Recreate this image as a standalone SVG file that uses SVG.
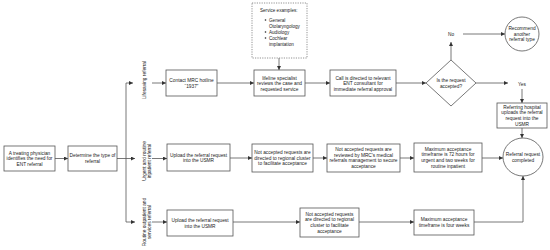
<svg xmlns="http://www.w3.org/2000/svg" width="550" height="250" viewBox="0 0 550 250">
<defs>
<marker id="ah" markerUnits="userSpaceOnUse" markerWidth="4" markerHeight="4" viewBox="0 0 4 4" refX="4" refY="2" orient="auto">
<path d="M0,0 L4,2 L0,4 Z" fill="#333"/>
</marker>
<style>
.b{fill:#fff;stroke:#555;stroke-width:0.8}
.d{fill:#fff;stroke:#777;stroke-width:0.8;stroke-dasharray:1.2 1.2}
.t{font-family:"Liberation Sans",Arial,sans-serif;font-size:4.8px;fill:#222;text-anchor:middle}
.s{font-family:"Liberation Sans",Arial,sans-serif;font-size:4.6px;fill:#222}
.c{fill:none;stroke:#555;stroke-width:0.8}
.a{fill:none;stroke:#555;stroke-width:0.8;marker-end:url(#ah)}
</style>
</defs>
<rect width="550" height="250" fill="#fff"/>
<g id="connectors">
<path class="a" d="M55,158.5 H68"/>
<path class="a" d="M117,158.5 H135"/>
<path class="c" d="M126,158.5 V83"/>
<path class="c" d="M126,158.5 V222"/>
<path class="a" d="M126,83 H133"/>
<path class="a" d="M126,222 H135"/>
<path class="a" d="M152,83 H166"/>
<path class="a" d="M152,158.5 H167"/>
<path class="a" d="M152,222 H167"/>
<path class="a" d="M217,83 H254"/>
<path class="a" d="M279,58 V70"/>
<path class="a" d="M305,83 H330"/>
<path class="a" d="M396,83 H426"/>
<path class="a" d="M451,60 V42"/>
<path class="a" d="M463,34 H505"/>
<path class="a" d="M476,83 H508"/>
<path class="a" d="M522,89 V103"/>
<path class="a" d="M522,128 V138"/>
<path class="a" d="M230,158 H252"/>
<path class="a" d="M313,158 H327"/>
<path class="a" d="M400,158 H414"/>
<path class="a" d="M482,158 H503"/>
<path class="a" d="M233,222 H300"/>
<path class="a" d="M359,222 H414"/>
<path class="a" d="M474,222 H523 V176"/>
</g>
<g id="lbl-lifesaving"><text class="t" transform="translate(146,80) rotate(-90)">Lifesaving referral</text></g>
<g id="lbl-urgent"><text class="t" transform="translate(145.5,161) rotate(-90)"><tspan x="0" y="0">Urgent and routine</tspan><tspan x="0" y="5.6">inpatient referral</tspan></text></g>
<g id="lbl-routine"><text class="t" transform="translate(145.5,222) rotate(-90)"><tspan x="0" y="0">Routine outpatient and</tspan><tspan x="0" y="5.6">services referral</tspan></text></g>
<g id="n-physician"><rect class="b" x="4" y="146" width="51" height="25"/><text class="t"><tspan x="29.5" y="154.6">A treating physician</tspan><tspan x="29.5" y="160.2">identifies the need for</tspan><tspan x="29.5" y="165.8">ENT referral</tspan></text></g>
<g id="n-determine"><rect class="b" x="68" y="146" width="49" height="25"/><text class="t"><tspan x="92.5" y="157.4">Determine the type of</tspan><tspan x="92.5" y="163">referral</tspan></text></g>
<g id="n-contact"><rect class="b" x="166" y="70" width="51" height="26"/><text class="t"><tspan x="191.5" y="82">Contact MRC hotline</tspan><tspan x="191.5" y="87.6">“1937”</tspan></text></g>
<g id="n-examples"><rect class="d" x="252" y="3" width="55" height="55"/><text class="s"><tspan x="260" y="11.5">Service examples:</tspan><tspan x="269" y="21.5">General</tspan><tspan x="269" y="27.5">Otolaryngology</tspan><tspan x="269" y="33.5">Audiology</tspan><tspan x="269" y="39.5">Cochlear</tspan><tspan x="269" y="46">implantation</tspan></text>
<circle cx="265.5" cy="20" r="0.8" fill="#222"/><circle cx="265.5" cy="32" r="0.8" fill="#222"/><circle cx="265.5" cy="38" r="0.8" fill="#222"/></g>
<g id="n-lifeline"><rect class="b" x="254" y="70" width="51" height="26"/><text class="t"><tspan x="279.5" y="79.6">lifeline specialist</tspan><tspan x="279.5" y="85.2">reviews the case and</tspan><tspan x="279.5" y="90.8">requested service</tspan></text></g>
<g id="n-call"><rect class="b" x="330" y="70" width="66" height="26"/><text class="t"><tspan x="363" y="79.6">Call is directed to relevant</tspan><tspan x="363" y="85.2">ENT consultant for</tspan><tspan x="363" y="90.8">immediate referral approval</tspan></text></g>
<g id="n-decision"><path class="b" d="M451,60 L476,83 L451,106 L426,83 Z"/><text class="t"><tspan x="451" y="82">Is the request</tspan><tspan x="451" y="87.6">accepted?</tspan></text></g>
<g id="lbl-no"><text class="t" x="451" y="36">No</text></g>
<g id="lbl-yes"><text class="t" x="522" y="85.5">Yes</text></g>
<g id="n-recommend"><circle class="b" cx="522" cy="34" r="17"/><text class="t"><tspan x="522" y="30">Recommend</tspan><tspan x="522" y="35.6">another</tspan><tspan x="522" y="41.2">referral type</tspan></text></g>
<g id="n-referring"><rect class="b" x="497" y="103" width="50" height="25"/><text class="t"><tspan x="522" y="108.8">Referring hospital</tspan><tspan x="522" y="114.4">uploads the referral</tspan><tspan x="522" y="120">request into the</tspan><tspan x="522" y="125.6">USMR</tspan></text></g>
<g id="n-completed"><ellipse class="b" cx="523" cy="157" rx="20" ry="19"/><text class="t"><tspan x="523" y="156">Referral request</tspan><tspan x="523" y="161.6">completed</tspan></text></g>
<g id="n-upload1"><rect class="b" x="167" y="144" width="63" height="27"/><text class="t"><tspan x="198.5" y="156.5">Upload the referral request</tspan><tspan x="198.5" y="162.1">into the USMR</tspan></text></g>
<g id="n-regional1"><rect class="b" x="252" y="144" width="61" height="28"/><text class="t"><tspan x="282.5" y="154">Not accepted requests are</tspan><tspan x="282.5" y="159.6">directed to regional cluster</tspan><tspan x="282.5" y="165.2">to facilitate acceptance</tspan></text></g>
<g id="n-mrc"><rect class="b" x="327" y="144" width="73" height="28"/><text class="t"><tspan x="363.5" y="151.2">Not accepted requests are</tspan><tspan x="363.5" y="156.8">reviewed by MRC's medical</tspan><tspan x="363.5" y="162.4">referrals management to secure</tspan><tspan x="363.5" y="168">acceptance</tspan></text></g>
<g id="n-max72"><rect class="b" x="414" y="143" width="68" height="29"/><text class="t"><tspan x="448" y="150.8">Maximum acceptance</tspan><tspan x="448" y="156.4">timeframe is 72 hours for</tspan><tspan x="448" y="162">urgent and two weeks for</tspan><tspan x="448" y="167.6">routine inpatient</tspan></text></g>
<g id="n-upload2"><rect class="b" x="167" y="210" width="66" height="26"/><text class="t"><tspan x="200" y="222">Upload the referral request</tspan><tspan x="200" y="227.6">into the USMR</tspan></text></g>
<g id="n-regional2"><rect class="b" x="300" y="208" width="59" height="29"/><text class="t"><tspan x="329.5" y="215.8">Not accepted requests</tspan><tspan x="329.5" y="221.4">are directed to regional</tspan><tspan x="329.5" y="227">cluster to facilitate</tspan><tspan x="329.5" y="232.6">acceptance</tspan></text></g>
<g id="n-max4"><rect class="b" x="414" y="210" width="60" height="25"/><text class="t"><tspan x="444" y="221.4">Maximum acceptance</tspan><tspan x="444" y="227">timeframe is four weeks</tspan></text></g>
</svg>
